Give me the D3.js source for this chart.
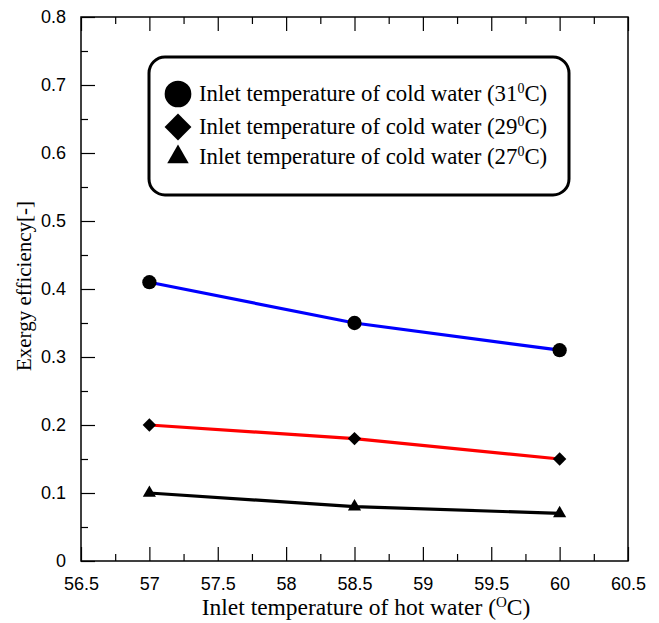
<!DOCTYPE html>
<html><head><meta charset="utf-8">
<script src="https://cdn.jsdelivr.net/npm/d3@7"></script>
<style>body{margin:0;background:#fff}svg{display:block}</style>
</head><body><svg id="c" width="659" height="623"></svg>
<script>
const xValues = [57, 58.5, 60];
const series31 = [0.41, 0.35, 0.31];
const series29 = [0.20, 0.18, 0.15];
const series27 = [0.10, 0.08, 0.07];
const seriesNames = ["Inlet temperature of cold water (31", "Inlet temperature of cold water (29", "Inlet temperature of cold water (27"];
const xTicks = [56.5, 57, 57.5, 58, 58.5, 59, 59.5, 60, 60.5];
const yTicks = [0, 0.1, 0.2, 0.3, 0.4, 0.5, 0.6, 0.7, 0.8];

const svg = d3.select("#c");
const L = 81, R = 628, T = 17, B = 561;
const x = d3.scaleLinear().domain([56.5, 60.5]).range([L, R]);
const y = d3.scaleLinear().domain([0, 0.8]).range([B, T]);
const sans = "Liberation Sans, Arial, sans-serif";
const serif = "Liberation Serif, Times New Roman, serif";

const g = svg.append("g");
g.append("rect").attr("x", L).attr("y", T).attr("width", R - L).attr("height", B - T)
  .attr("fill", "none").attr("stroke", "#000").attr("stroke-width", 1.5);

const xMinor = d3.range(56.75, 60.5, 0.5);
const xa = g.append("g").attr("transform", `translate(0,${B})`)
  .call(d3.axisBottom(x).tickValues(xTicks).tickSizeInner(-14).tickSizeOuter(0).tickPadding(16).tickFormat(d => d3.format("")(d)));
xa.select(".domain").remove();
xa.selectAll("text").attr("font-family", sans).attr("font-size", 18).attr("fill", "#000");
xa.selectAll("line").attr("stroke-width", 1.2);
g.append("g").attr("transform", `translate(0,${B})`)
  .call(d3.axisBottom(x).tickValues(xMinor).tickSizeInner(-7).tickSizeOuter(0).tickFormat(""))
  .call(s => s.select(".domain").remove()).selectAll("line").attr("stroke-width", 1.2);
g.append("g").attr("transform", `translate(0,${T})`)
  .call(d3.axisTop(x).tickValues(xTicks).tickSizeInner(-14).tickSizeOuter(0).tickFormat(""))
  .call(s => s.select(".domain").remove()).selectAll("line").attr("stroke-width", 1.2);
g.append("g").attr("transform", `translate(0,${T})`)
  .call(d3.axisTop(x).tickValues(xMinor).tickSizeInner(-7).tickSizeOuter(0).tickFormat(""))
  .call(s => s.select(".domain").remove()).selectAll("line").attr("stroke-width", 1.2);

const yMinor = d3.range(0.05, 0.8, 0.1);
const ya = g.append("g").attr("transform", `translate(${L},0)`)
  .call(d3.axisLeft(y).tickValues(yTicks).tickSizeInner(-14).tickSizeOuter(0).tickPadding(15).tickFormat(d => d3.format("")(d)));
ya.select(".domain").remove();
ya.selectAll("text").attr("font-family", sans).attr("font-size", 18).attr("fill", "#000");
ya.selectAll("line").attr("stroke-width", 1.2);
g.append("g").attr("transform", `translate(${L},0)`)
  .call(d3.axisLeft(y).tickValues(yMinor).tickSizeInner(-7).tickSizeOuter(0).tickFormat(""))
  .call(s => s.select(".domain").remove()).selectAll("line").attr("stroke-width", 1.2);

const xt = svg.append("text").attr("x", 366).attr("y", 615).attr("text-anchor", "middle")
  .attr("font-family", serif).attr("font-size", 23.5);
xt.append("tspan").text("Inlet temperature of hot water (");
xt.append("tspan").attr("font-size", 15).attr("dy", -8).text("O");
xt.append("tspan").attr("dy", 8).text("C)");
svg.append("text").attr("transform", `translate(31,286) rotate(-90)`).attr("text-anchor", "middle")
  .attr("font-family", serif).attr("font-size", 21).text("Exergy efficiency[-]");

const diamond = {draw(ctx, size) { const r = Math.sqrt(size / 2); ctx.moveTo(0, -r); ctx.lineTo(r, 0); ctx.lineTo(0, r); ctx.lineTo(-r, 0); ctx.closePath(); }};
const allSeries = [
  {vals: series31, color: "#0000ff", sym: d3.symbolCircle, size: 160},
  {vals: series29, color: "#ff0000", sym: diamond, size: 90},
  {vals: series27, color: "#000000", sym: d3.symbolTriangle, size: 75}
];
const line = d3.line().x(d => x(d[0])).y(d => y(d[1]));
allSeries.forEach(s => {
  const pts = xValues.map((v, i) => [v, s.vals[i]]);
  g.append("path").attr("d", line(pts)).attr("fill", "none").attr("stroke", s.color).attr("stroke-width", 3.2);
  g.selectAll(null).data(pts).enter().append("path")
    .attr("transform", d => `translate(${x(d[0])},${y(d[1])})`)
    .attr("d", d3.symbol().type(s.sym).size(s.size)).attr("fill", "#000");
});

const lg = svg.append("g");
lg.append("rect").attr("x", 149).attr("y", 57).attr("width", 420).attr("height", 138).attr("rx", 16)
  .attr("fill", "#fff").attr("stroke", "#000").attr("stroke-width", 3);
const legendSyms = [
  {sym: d3.symbolCircle, size: 560},
  {sym: diamond, size: 360},
  {sym: d3.symbolTriangle, size: 200}
];
const rowsY = [94, 127, 157];
legendSyms.forEach((s, i) => {
  const cy = rowsY[i];
  lg.append("path").attr("transform", `translate(178,${cy})`).attr("d", d3.symbol().type(s.sym).size(s.size)).attr("fill", "#000");
  const t = lg.append("text").attr("x", 199).attr("y", cy + 7)
    .attr("font-family", serif).attr("font-size", 22.8);
  t.append("tspan").text(seriesNames[i]);
  t.append("tspan").attr("font-size", 14).attr("dy", -8).text("0");
  t.append("tspan").attr("dy", 8).text("C)");
});
</script></body></html>
